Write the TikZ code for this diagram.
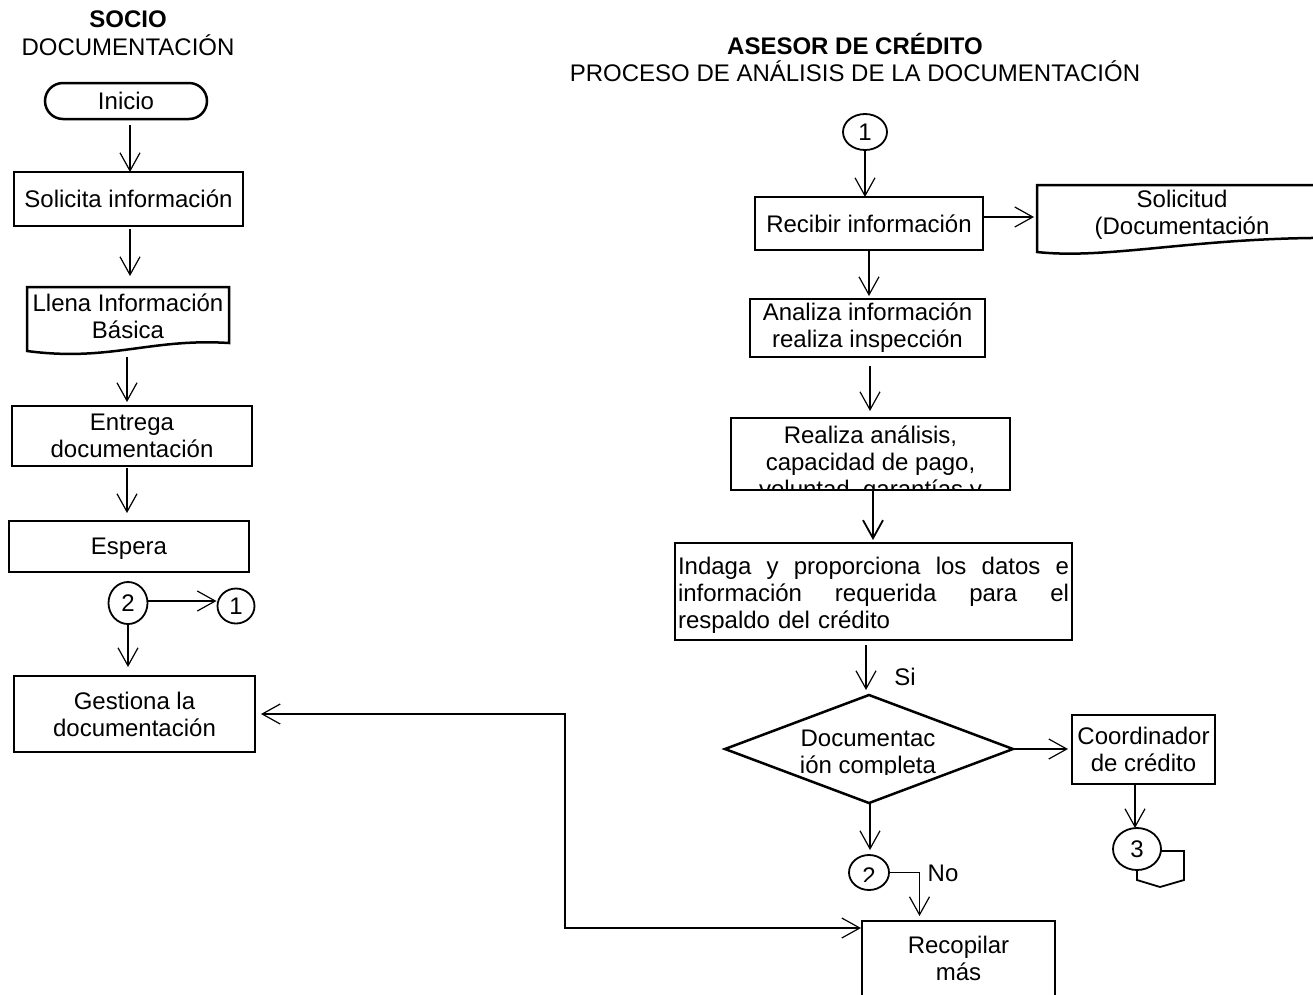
\documentclass[tikz,border=0pt]{standalone}
\usepackage{fontspec}
\setmainfont{Liberation Sans}
\usetikzlibrary{arrows.meta,shapes.geometric,calc}
\newcommand\diafont{\fontsize{24}{27}\selectfont}
% a line of text spread out to a fixed width, gaps between words stretched evenly
\newcommand\spreadline[1]{\leavevmode\hbox to 391pt{#1}}
\begin{document}
\begin{tikzpicture}[x=1pt,y=-1pt,
  every node/.style={font=\diafont, inner sep=0pt, outer sep=0pt},
  box/.style={draw, line width=2.5pt, rectangle, align=center},
  circ/.style={draw, ellipse, line width=1.8pt},
  outline/.style={line width=2.5pt, line join=miter},
  conn/.style={line width=1.2pt, -{Straight Barb[length=18pt,width=20pt]}},
  dconn/.style={line width=1.2pt, {Straight Barb[length=18pt,width=20pt]}-{Straight Barb[length=18pt,width=20pt]}}]
\clip (0,0) rectangle (1313,994);

% ---------- column titles ----------
\node[anchor=base, font=\diafont\bfseries] (tsocio) at (128,27) {SOCIO};
\node[anchor=base] (tdoc) at (128,55) {DOCUMENTACIÓN};
\node[anchor=base, font=\diafont\bfseries] (tasesor) at (855,54) {ASESOR DE CRÉDITO};
\node[anchor=base] (tproc) at (855,81) {PROCESO DE ANÁLISIS DE LA DOCUMENTACIÓN};

% ---------- SOCIO: documentation ----------
\node[box, rounded corners=18pt, minimum width=162pt, minimum height=36pt] (ini) at (126,101) {Inicio};
\node[box, minimum width=229pt, minimum height=54pt] (sol) at (128.5,199) {Solicita información};
% document shape with wavy bottom
\draw[outline] (27,351) -- (27,287) -- (229,287) -- (229,343)
  .. controls (150,338) and (110,362) .. (27,351) -- cycle;
\node[align=center, minimum width=202pt, minimum height=81pt] (llena) at (128,316.5) {Llena Información\\Básica};
\node[box, minimum width=240pt, minimum height=60pt] (ent) at (132,436) {Entrega\\documentación};
\node[box, minimum width=240pt, minimum height=51pt, text depth=0pt] (esp) at (129,546.5) {Espera};
\node[circ, minimum width=39pt, minimum height=42pt] (c2a) at (128,603) {2};
\node[circ, minimum width=37pt, minimum height=35pt] (c1a) at (236,606) {1};
\node[box, minimum width=241pt, minimum height=76pt] (gest) at (134.5,714) {Gestiona la\\documentación};

\draw[conn, shorten <=6pt] ([xshift=4pt]ini.south) -- ([xshift=4pt]ini.south |- sol.north);
\draw[conn, shorten <=3pt] ([xshift=1.5pt]sol.south) -- ([xshift=1.5pt]sol.south |- llena.north);
\draw[conn, shorten >=4pt] ([xshift=-1pt]llena.south) -- ([xshift=-1pt]llena.south |- ent.north);
\draw[conn, shorten <=2pt, shorten >=8pt] ([xshift=-5pt]ent.south) -- ([xshift=-5pt]ent.south |- esp.north);
\draw[conn, shorten >=1pt] ([yshift=2pt]c2a.east) -- ([yshift=2pt]c2a.east -| c1a.west);
\draw[conn, shorten >=9pt] (c2a.south) -- (c2a.south |- gest.north);

% ---------- ASESOR DE CRÉDITO: analysis ----------
\node[circ, minimum width=44pt, minimum height=36pt] (c1b) at (865,132) {1};
\node[box, minimum width=228pt, minimum height=53pt] (rec) at (869,223.5) {Recibir información};
% document shape running past the right edge
\draw[outline] (1037,252) -- (1037,185) -- (1345,185) -- (1345,238)
  .. controls (1200,236) and (1110,260) .. (1037,252) -- cycle;
\node[align=center, minimum width=290pt, minimum height=60pt] (soli) at (1182,214.5) {Solicitud\\(Documentación};
\node[box, minimum width=235pt, minimum height=58pt] (ana) at (867.5,328) {Analiza información\\realiza inspección};

\begin{scope}
  \clip (731,418) rectangle (1010,490);
  \node[align=center] (realtxt) at (870.5,464) {Realiza análisis,\\capacidad de pago,\\voluntad, garantías y};
\end{scope}
\node[box, minimum width=279pt, minimum height=72pt] (real) at (870.5,454) {};

\node[box, minimum width=397pt, minimum height=97pt] (ind) at (873.5,591.5) {};
\node[align=left, text width=391pt] (indtxt) at (873.5,595)
  {\spreadline{Indaga\hfill y\hfill proporciona\hfill los\hfill datos\hfill e}\\
   \spreadline{información\hfill requerida\hfill para\hfill el}\\
   respaldo del crédito};

\node[draw, diamond, line width=2.5pt, minimum width=288pt, minimum height=108pt] (dec) at (869,749) {};
\begin{scope}
  \clip (760,700) rectangle (980,774.5);
  \node[align=center] (dectxt) at (868,754) {Documentac\\ión completa};
\end{scope}
\node (si) at (905,677) {Si};

\node[box, minimum width=143pt, minimum height=69pt] (coord) at (1143.5,749.5) {Coordinador\\de crédito};
% off-page connector behind the numbered ellipse
\draw[line width=1.8pt, line join=miter] (1137,851) -- (1184,851) -- (1184,880) -- (1160,887) -- (1137,880) -- cycle;
\node[circ, fill=white, minimum width=48pt, minimum height=42pt] (off3) at (1137,849) {3};

\node[circ, minimum width=40pt, minimum height=35pt] (c2b) at (869,872.5) {};
\begin{scope}
  \clip (840,850) rectangle (900,881);
  \node (c2btxt) at (869,876.5) {2};
\end{scope}
\node (no) at (943,873.5) {No};

\node[box, minimum width=193pt, minimum height=75pt] (rec2) at (958.5,958.5) {Recopilar\\más};

\draw[conn] (c1b.south) -- (c1b.south |- rec.north);
\draw[conn, shorten >=3pt] ([yshift=6.5pt]rec.east) -- ([yshift=6.5pt]rec.east -| soli.west);
\draw[conn, shorten >=3pt] (rec.south) -- (rec.south |- ana.north);
\draw[conn, shorten <=9pt, shorten >=7pt] ([xshift=2.5pt]ana.south) -- ([xshift=2.5pt]ana.south |- real.north);
\draw[line width=1.8pt, -{Straight Barb[length=18pt,width=20pt]}, shorten >=3pt] ([xshift=2.5pt]real.south) -- ([xshift=2.5pt]real.south |- ind.north);
\draw[conn, shorten <=5pt, shorten >=5pt] ([xshift=-7.5pt]ind.south) -- ([xshift=-7.5pt]ind.south |- dec.north);
\draw[conn, shorten >=4pt] (dec.east) -- (dec.east -| coord.west);
\draw[conn] ([xshift=-8.5pt]coord.south) -- ([xshift=-8.5pt]coord.south |- off3.north);
\draw[conn, shorten >=5pt] ([xshift=1pt]dec.south) -- ([xshift=1pt]dec.south |- c2b.north);
\draw[conn] (c2b.east) -- ($(c2b.east -| rec2.north)+(-39,0)$) -- ($(rec2.north)+(-39,-5)$);
\draw[dconn, shorten <=6pt, shorten >=1pt] (gest.east) -- (565,714) -- (565,928) -- ([yshift=30.5pt]rec2.west);
\end{tikzpicture}
\end{document}
